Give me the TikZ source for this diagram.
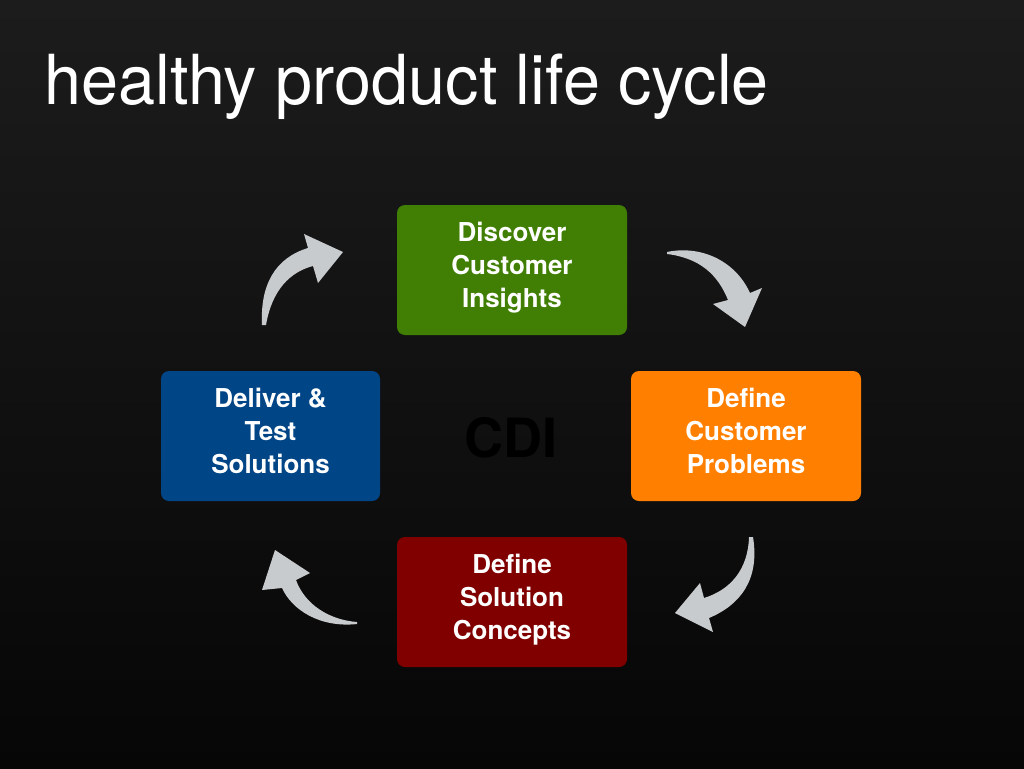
\documentclass[tikz,border=0pt]{standalone}
\usepackage{fontspec}
\setmainfont{TeX Gyre Heros}
\newfontfamily\titlefont{TeX Gyre Heros}[FakeStretch=0.965]
\usepackage{tikz}
\usetikzlibrary{positioning}
\definecolor{bgtop}{RGB}{28,28,29}
\definecolor{bgbot}{RGB}{6,6,6}
\definecolor{cdigreen}{RGB}{64,127,4}
\definecolor{cdiorange}{RGB}{255,128,0}
\definecolor{cdired}{RGB}{128,0,0}
\definecolor{cdiblue}{RGB}{0,69,134}
\definecolor{arrowgray}{RGB}{200,203,205}
\tikzset{
  stagebox/.style={rounded corners=8pt,minimum width=230pt,minimum height=130pt,
                   text=white,align=center,inner sep=0pt,text depth=10pt,
                   font=\fontsize{26}{33}\selectfont\bfseries},
  cyclearrow/.style={fill=arrowgray,draw=none},
}

\begin{document}
\begin{tikzpicture}[x=1pt,y=-1pt]
  % background
  \fill[top color=bgtop,bottom color=bgbot] (0,0) rectangle (1024,768);
  \useasboundingbox (0,0) rectangle (1024,768);
  \node[anchor=base west,text=white,inner sep=0pt,
        font=\titlefont\fontsize{69}{69}\selectfont] (title) at (44,104) {healthy product life cycle};
  % the four stages
  \node[stagebox,fill=cdigreen] (discover) at (512,270) {Discover\\Customer\\Insights};
  \node[stagebox,fill=cdiorange] (problems) at (746,436) {Define\\Customer\\Problems};
  \node[stagebox,fill=cdired] (solution) at (512,602) {Define\\Solution\\Concepts};
  \node[stagebox,fill=cdiblue,minimum width=219pt] (deliver) at (270.5,436) {Deliver \&\\Test\\Solutions};
  \node[font=\fontsize{54}{54}\selectfont\bfseries,text=black] (cdi) at (511,438) {CDI};
  % curved arrows
  \fill[cyclearrow] (262,325) .. controls (260,285) and (275,258) .. (308,248)
     -- (304,234) -- (343,252) -- (318,283) -- (313,266)
     .. controls (290,272) and (272,290) .. (266,325) -- cycle;
  \fill[cyclearrow] (667,252) .. controls (700,245) and (735,260) .. (750,293)
     -- (762,288) -- (745,327) -- (713,304) -- (728,300)
     .. controls (718,275) and (700,258) .. (667,254) -- cycle;
  \fill[cyclearrow] (753,537) .. controls (760,580) and (740,605) .. (709,618)
     -- (713,632) -- (675,613) -- (700,583) -- (704,598)
     .. controls (730,590) and (748,570) .. (749,537) -- cycle;
  \fill[cyclearrow] (357,624) .. controls (320,628) and (292,610) .. (282,588)
     -- (262,590) -- (275,550) -- (310,573) -- (296,580)
     .. controls (305,605) and (330,620) .. (357,622) -- cycle;
\end{tikzpicture}
\end{document}
